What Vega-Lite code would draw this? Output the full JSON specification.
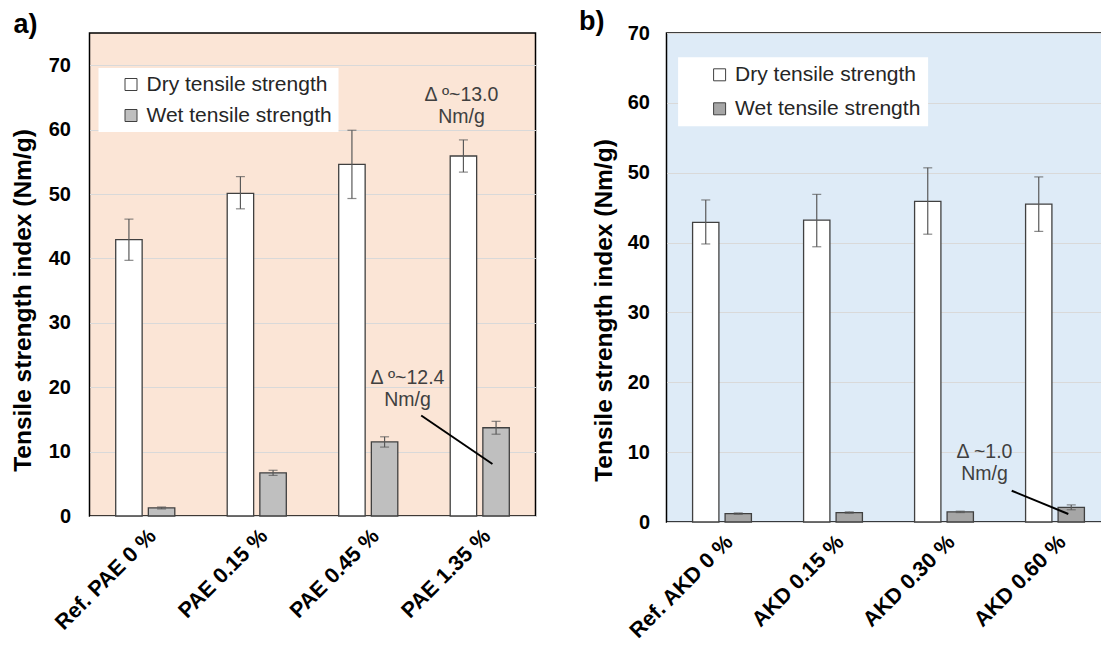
{
  "$schema": "https://vega.github.io/schema/vega-lite/v6.json",
  "background": "white",
  "padding": {"left": 9.5, "top": 7, "right": 0, "bottom": 0},
  "spacing": 131,
  "bounds": "flush",
  "config": {
    "font": "Liberation Sans",
    "view": {"stroke": "#000000", "strokeWidth": 1.5},
    "legend": {"labelFont": "Liberation Sans", "labelLimit": 400}
  },
  "resolve": {"scale": {"fill": "independent", "xOffset": "independent"}, "legend": {"fill": "independent"}},
  "hconcat": [
    {
      "width": 446,
      "height": 483,
      "view": {"fill": "#FBE5D6", "stroke": "#000000", "strokeWidth": 1.5},
      "resolve": {"scale": {"x": "independent"}},
      "layer": [
        {
          "data": {"values": [
            {"sample": "Ref. PAE 0 %", "type": "Dry tensile strength", "value": 42.9, "lo": 39.7, "hi": 46.1},
            {"sample": "Ref. PAE 0 %", "type": "Wet tensile strength", "value": 1.25, "lo": 1.1, "hi": 1.4},
            {"sample": "PAE 0.15 %", "type": "Dry tensile strength", "value": 50.1, "lo": 47.7, "hi": 52.7},
            {"sample": "PAE 0.15 %", "type": "Wet tensile strength", "value": 6.7, "lo": 6.3, "hi": 7.1},
            {"sample": "PAE 0.45 %", "type": "Dry tensile strength", "value": 54.6, "lo": 49.3, "hi": 59.9},
            {"sample": "PAE 0.45 %", "type": "Wet tensile strength", "value": 11.5, "lo": 10.7, "hi": 12.3},
            {"sample": "PAE 1.35 %", "type": "Dry tensile strength", "value": 55.9, "lo": 53.4, "hi": 58.4},
            {"sample": "PAE 1.35 %", "type": "Wet tensile strength", "value": 13.7, "lo": 12.7, "hi": 14.7}
          ]},
          "encoding": {
            "x": {"field": "sample", "type": "nominal", "sort": null, "scale": {"paddingInner": 0.47, "paddingOuter": 0.235},
              "axis": {"title": null, "labelAngle": -45, "labelFontSize": 21.5, "labelFontWeight": "bold", "labelColor": "#000000", "ticks": false, "domain": false, "grid": false, "labelPadding": 9}},
            "xOffset": {"field": "type", "type": "nominal", "sort": null, "scale": {"paddingInner": 0.19, "paddingOuter": 0}}
          },
          "layer": [
            {
              "mark": {"type": "bar", "stroke": "#404040", "strokeWidth": 1.3},
              "encoding": {
                "y": {"field": "value", "type": "quantitative", "scale": {"domain": [0, 75], "nice": false, "zero": true},
                  "axis": {"title": "Tensile strength index (Nm/g)", "values": [0, 10, 20, 30, 40, 50, 60, 70], "grid": true, "gridColor": "#D9D9D9", "gridWidth": 1, "domain": false, "ticks": false, "labelFontSize": 20, "labelFontWeight": "bold", "labelColor": "#000000", "labelPadding": 19, "titleFontSize": 24.5, "titleFontWeight": "bold", "titleColor": "#000000", "titlePadding": 13, "titleY": 267}},
                "fill": {"field": "type", "type": "nominal", "scale": {"domain": ["Dry tensile strength", "Wet tensile strength"], "range": ["#FFFFFF", "#BFBFBF"]},
                  "legend": {"title": null, "orient": "none", "legendX": 9, "legendY": 35, "fillColor": "#FFFFFF", "padding": 6, "symbolOffset": 16, "symbolType": "square", "symbolSize": 144, "symbolStrokeColor": "#404040", "symbolStrokeWidth": 1, "labelFontSize": 21, "labelColor": "#262626", "labelOffset": 5, "rowPadding": 9}}
              }
            },
            {
              "mark": {"type": "rule", "color": "#595959", "strokeWidth": 1.2},
              "encoding": {
                "y": {"field": "lo", "type": "quantitative"},
                "y2": {"field": "hi"}
              }
            },
            {
              "mark": {"type": "tick", "orient": "horizontal", "color": "#595959", "size": 9, "thickness": 1.2},
              "encoding": {"y": {"field": "hi", "type": "quantitative"}}
            },
            {
              "mark": {"type": "tick", "orient": "horizontal", "color": "#595959", "size": 9, "thickness": 1.2},
              "encoding": {"y": {"field": "lo", "type": "quantitative"}}
            }
          ]
        },
        {
          "layer": [
            {
              "data": {"values": [
                {"label": "Δ º~13.0\nNm/g", "pos": 3.336, "value": 65.4},
                {"label": "Δ º~12.4\nNm/g", "pos": 2.852, "value": 21.4}
              ]},
              "mark": {"type": "text", "lineBreak": "\n", "fontSize": 19.5, "lineHeight": 22, "color": "#404040", "align": "center", "baseline": "middle"},
              "encoding": {
                "x": {"field": "pos", "type": "quantitative", "scale": {"domain": [0, 4], "nice": false, "zero": false}, "axis": null},
                "y": {"field": "value", "type": "quantitative"},
                "text": {"field": "label"}
              }
            },
            {
              "data": {"values": [
                {"pos": 2.975, "value": 15.6, "pos2": 3.614, "value2": 8.07}
              ]},
              "mark": {"type": "rule", "color": "#000000", "strokeWidth": 2},
              "encoding": {
                "x": {"field": "pos", "type": "quantitative", "axis": null},
                "x2": {"field": "pos2"},
                "y": {"field": "value", "type": "quantitative"},
                "y2": {"field": "value2"}
              }
            },
            {
              "data": {"values": [{"label": "a)", "pos": -0.574, "value": 76.2}]},
              "mark": {"type": "text", "fontSize": 27, "fontWeight": "bold", "color": "#000000", "align": "center", "baseline": "middle"},
              "encoding": {
                "x": {"field": "pos", "type": "quantitative", "axis": null},
                "y": {"field": "value", "type": "quantitative"},
                "text": {"field": "label"}
              }
            }
          ]
        }
      ]
    },
    {
      "width": 444,
      "height": 489,
      "view": {"fill": "#DEEBF7", "stroke": "#000000", "strokeWidth": 1.5},
      "resolve": {"scale": {"x": "independent"}},
      "layer": [
        {
          "data": {"values": [
            {"sample": "Ref. AKD 0 %", "type": "Dry tensile strength", "value": 42.9, "lo": 39.8, "hi": 46.1},
            {"sample": "Ref. AKD 0 %", "type": "Wet tensile strength", "value": 1.2, "lo": 1.1, "hi": 1.3},
            {"sample": "AKD 0.15 %", "type": "Dry tensile strength", "value": 43.2, "lo": 39.4, "hi": 46.9},
            {"sample": "AKD 0.15 %", "type": "Wet tensile strength", "value": 1.35, "lo": 1.25, "hi": 1.45},
            {"sample": "AKD 0.30 %", "type": "Dry tensile strength", "value": 45.9, "lo": 41.2, "hi": 50.7},
            {"sample": "AKD 0.30 %", "type": "Wet tensile strength", "value": 1.45, "lo": 1.35, "hi": 1.55},
            {"sample": "AKD 0.60 %", "type": "Dry tensile strength", "value": 45.5, "lo": 41.6, "hi": 49.4},
            {"sample": "AKD 0.60 %", "type": "Wet tensile strength", "value": 2.1, "lo": 1.75, "hi": 2.45}
          ]},
          "encoding": {
            "x": {"field": "sample", "type": "nominal", "sort": null, "scale": {"paddingInner": 0.47, "paddingOuter": 0.235},
              "axis": {"title": null, "labelAngle": -45, "labelFontSize": 21.5, "labelFontWeight": "bold", "labelColor": "#000000", "ticks": false, "domain": false, "grid": false, "labelPadding": 9}},
            "xOffset": {"field": "type", "type": "nominal", "sort": null, "scale": {"paddingInner": 0.19, "paddingOuter": 0}}
          },
          "layer": [
            {
              "mark": {"type": "bar", "stroke": "#404040", "strokeWidth": 1.3},
              "encoding": {
                "y": {"field": "value", "type": "quantitative", "scale": {"domain": [0, 70], "nice": false, "zero": true},
                  "axis": {"title": "Tensile strength index (Nm/g)", "values": [0, 10, 20, 30, 40, 50, 60, 70], "grid": true, "gridColor": "#D9D9D9", "gridWidth": 1, "domain": false, "ticks": false, "labelFontSize": 20, "labelFontWeight": "bold", "labelColor": "#000000", "labelPadding": 17, "titleFontSize": 24.5, "titleFontWeight": "bold", "titleColor": "#000000", "titlePadding": 11, "titleY": 277}},
                "fill": {"field": "type", "type": "nominal", "scale": {"domain": ["Dry tensile strength", "Wet tensile strength"], "range": ["#FFFFFF", "#A6A6A6"]},
                  "legend": {"title": null, "orient": "none", "legendX": 11.6, "legendY": 24.3, "fillColor": "#FFFFFF", "padding": 7, "symbolOffset": 24, "symbolType": "square", "symbolSize": 144, "symbolStrokeColor": "#404040", "symbolStrokeWidth": 1, "labelFontSize": 21, "labelColor": "#262626", "labelOffset": 5, "rowPadding": 12}}
              }
            },
            {
              "mark": {"type": "rule", "color": "#595959", "strokeWidth": 1.2},
              "encoding": {
                "y": {"field": "lo", "type": "quantitative"},
                "y2": {"field": "hi"}
              }
            },
            {
              "mark": {"type": "tick", "orient": "horizontal", "color": "#595959", "size": 9, "thickness": 1.2},
              "encoding": {"y": {"field": "hi", "type": "quantitative"}}
            },
            {
              "mark": {"type": "tick", "orient": "horizontal", "color": "#595959", "size": 9, "thickness": 1.2},
              "encoding": {"y": {"field": "lo", "type": "quantitative"}}
            }
          ]
        },
        {
          "layer": [
            {
              "data": {"values": [
                {"label": "Δ ~1.0\nNm/g", "pos": 2.865, "value": 9.98}
              ]},
              "mark": {"type": "text", "lineBreak": "\n", "fontSize": 19.5, "lineHeight": 22, "color": "#404040", "align": "center", "baseline": "middle"},
              "encoding": {
                "x": {"field": "pos", "type": "quantitative", "scale": {"domain": [0, 4], "nice": false, "zero": false}, "axis": null},
                "y": {"field": "value", "type": "quantitative"},
                "text": {"field": "label"}
              }
            },
            {
              "data": {"values": [
                {"pos": 3.11, "value": 4.48, "pos2": 3.62, "value2": 1.15}
              ]},
              "mark": {"type": "rule", "color": "#000000", "strokeWidth": 2},
              "encoding": {
                "x": {"field": "pos", "type": "quantitative", "axis": null},
                "x2": {"field": "pos2"},
                "y": {"field": "value", "type": "quantitative"},
                "y2": {"field": "value2"}
              }
            },
            {
              "data": {"values": [{"label": "b)", "pos": -0.673, "value": 71.6}]},
              "mark": {"type": "text", "fontSize": 27, "fontWeight": "bold", "color": "#000000", "align": "center", "baseline": "middle"},
              "encoding": {
                "x": {"field": "pos", "type": "quantitative", "axis": null},
                "y": {"field": "value", "type": "quantitative"},
                "text": {"field": "label"}
              }
            }
          ]
        }
      ]
    }
  ]
}
